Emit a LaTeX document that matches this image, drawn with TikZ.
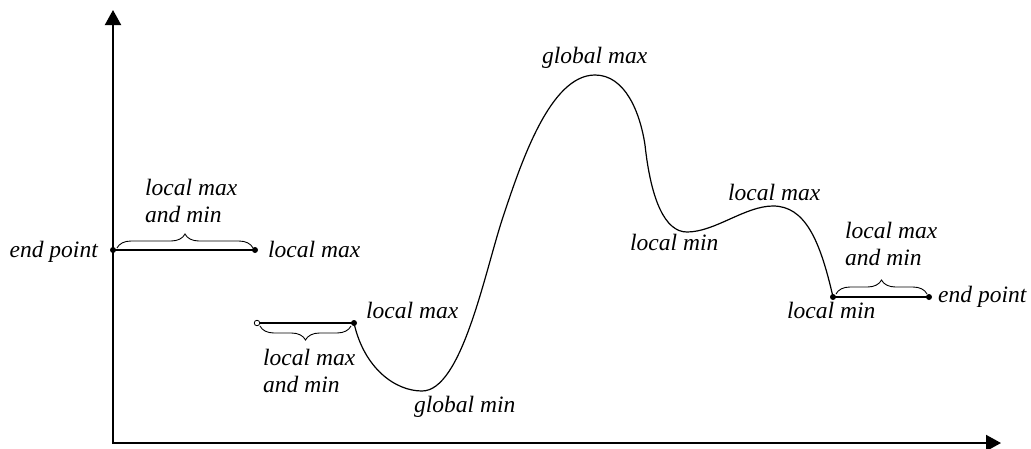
\documentclass[tikz,border=0pt]{standalone}
\usepackage{fontspec}
\setmainfont{Liberation Serif}
\usetikzlibrary{arrows.meta,decorations.pathreplacing}
\begin{document}
\begin{tikzpicture}[x=1pt,y=-1pt,
  lbl/.style={anchor=base west,inner sep=0pt,font=\fontsize{23.5}{27}\selectfont\itshape,align=left},
  axis/.style={line width=2pt,-{Triangle[width=16pt,length=15pt]}},
  seg/.style={line width=2.4pt},
  fn/.style={line width=1.2pt},
  brc/.style={line width=0.9pt,decorate,decoration={brace,amplitude=14pt}},
  dotc/.style={circle,fill=black,inner sep=0pt,minimum size=6pt},
  odot/.style={circle,draw=black,fill=white,line width=0.8pt,inner sep=0pt,minimum size=5.5pt}]
\useasboundingbox (0,0) rectangle (1031,448);
% axes
\coordinate (O) at (113,443);
\coordinate (Ytop) at (113,10);
\coordinate (Xend) at (1001,443);
\draw[axis] (O) -- (Ytop);
\draw[axis] ([xshift=-1pt]O) -- (Xend);
% points
\coordinate (A) at (113,250);
\coordinate (B) at (255,250);
\coordinate (C) at (257,323);
\coordinate (D) at (354,323);
\coordinate (Gmin) at (422,391);
\coordinate (I1) at (503,217);
\coordinate (Gmax) at (595,75);
\coordinate (I2) at (645,145);
\coordinate (Lmin) at (687,232);
\coordinate (Lmax) at (773,206);
\coordinate (E) at (833,297);
\coordinate (F) at (929,297);
% segments
\draw[seg] (A) -- (B);
\draw[seg] (C) -- (D);
\draw[seg] (E) -- (F);
% curve
\draw[fn] (D) .. controls (364,368) and (395,391) .. (Gmin)
  .. controls (462,391) and (485,271) .. (I1)
  .. controls (521,163) and (550,75) .. (Gmax)
  .. controls (625,75) and (640,112) .. (I2)
  .. controls (651,200) and (665,232) .. (Lmin)
  .. controls (715,232) and (745,206) .. (Lmax)
  .. controls (805,206) and (820,240) .. (E);
% braces
\draw[brc] (117,248) -- (253,248);
\draw[brc] (351,326) -- (260,326);
\draw[brc] (836,294) -- (927,294);
% dots
\node[dotc] (dA) at (A) {};
\node[dotc] (dB) at (B) {};
\node[odot] (dC) at (C) {};
\node[dotc] (dD) at (D) {};
\node[dotc] (dE) at (E) {};
\node[dotc] (dF) at (F) {};
% labels (multi-line: base = baseline of last line)
\node[lbl,anchor=base east] (t1) at (98,257) {end point};
\node[lbl] (t2) at (268,257) {local max};
\node[lbl] (t3) at (145,222) {local max\\and min};
\node[lbl] (t4) at (366,318) {local max};
\node[lbl] (t5) at (263,392) {local max\\and min};
\node[lbl] (t6) at (414,412) {global min};
\node[lbl] (t7) at (542,63) {global max};
\node[lbl] (t8) at (630,250) {local min};
\node[lbl] (t9) at (728,200) {local max};
\node[lbl] (t10) at (845,265) {local max\\and min};
\node[lbl] (t11) at (938,302) {end point};
\node[lbl] (t12) at (787,318) {local min};
\end{tikzpicture}
\end{document}
